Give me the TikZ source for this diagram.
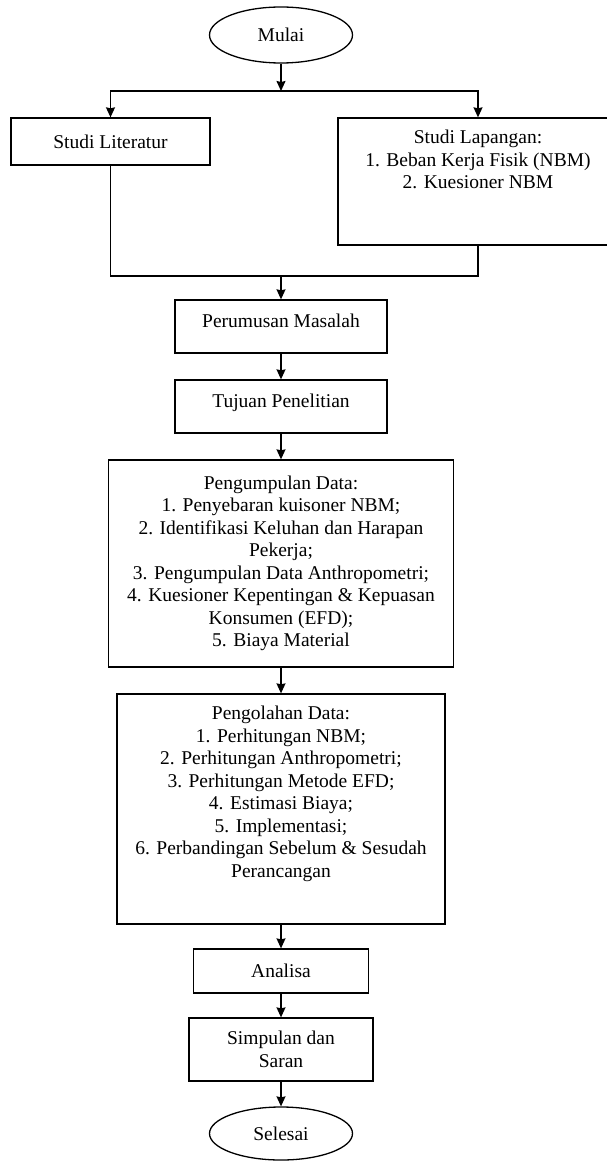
\documentclass[tikz,border=0pt]{standalone}
\usepackage{fontspec}
\setmainfont{Liberation Serif}
\usetikzlibrary{shapes.geometric, positioning, arrows.meta}
\newcommand{\isiatas}[4]{\parbox[c][#2][t]{#1}{\centering\vspace*{#3}#4}}

\begin{document}
\begin{tikzpicture}[x=1pt, y=-1pt, line width=1.3pt,
        font=\fontsize{19.5}{22.5}\selectfont,
        kotak/.style={draw, rectangle, align=center, inner sep=0pt},
        terminal/.style={draw, ellipse, inner sep=0pt, minimum width=143, minimum height=56},
        panah/.style={-{Stealth[length=10pt, width=9pt, inset=1pt]}}]
    \useasboundingbox (0,0) rectangle (606,1161);
    \node[terminal] (mulai) at (281,35) {Mulai};
    \coordinate (cabang) at (281,91);
    \node[kotak, minimum width=199, minimum height=47] (literatur) at (110.5,141.5) {Studi Literatur};
    \node[kotak] (lapangan) at (478,181.5)
        {\isiatas{280pt}{127pt}{12pt}{Studi Lapangan:\\1. Beban Kerja Fisik (NBM)\\2. Kuesioner NBM}};
    \coordinate (gabung) at (281,276);
    \node[kotak, minimum width=212, minimum height=53, text depth=12pt] (rumusan) at (281,326.5) {Perumusan Masalah};
    \node[kotak, minimum width=212, minimum height=53, text depth=12pt] (tujuan) at (281,406.5) {Tujuan Penelitian};
    \node[kotak, minimum width=345, minimum height=207] (kumpul) at (281,563.5)
        {Pengumpulan Data:\\1. Penyebaran kuisoner NBM;\\2. Identifikasi Keluhan dan Harapan\\Pekerja;\\3. Pengumpulan Data Anthropometri;\\4. Kuesioner Kepentingan \& Kepuasan\\Konsumen (EFD);\\5. Biaya Material};
    \node[kotak] (olah) at (281,809)
        {\isiatas{328pt}{230pt}{12pt}{Pengolahan Data:\\1. Perhitungan NBM;\\2. Perhitungan Anthropometri;\\3. Perhitungan Metode EFD;\\4. Estimasi Biaya;\\5. Implementasi;\\6. Perbandingan Sebelum \& Sesudah\\Perancangan}};
    \node[kotak, minimum width=175, minimum height=44] (analisa) at (281,971) {Analisa};
    \node[kotak, minimum width=184, minimum height=63] (simpulan) at (281,1049.5) {Simpulan dan\\Saran};
    \node[terminal, minimum height=53] (selesai) at (281,1133.5) {Selesai};

    \draw[panah] (mulai) -- (cabang);
    \draw[panah] (cabang) -| (literatur);
    \draw[panah] (cabang) -| (lapangan);
    \draw (literatur) |- (gabung) -| (lapangan);
    \draw[panah] (gabung) -- (rumusan);
    \draw[panah] (rumusan) -- (tujuan);
    \draw[panah] (tujuan) -- (kumpul);
    \draw[panah] (kumpul) -- (olah);
    \draw[panah] (olah) -- (analisa);
    \draw[panah] (analisa) -- (simpulan);
    \draw[panah] (simpulan) -- (selesai);
\end{tikzpicture}
\end{document}
